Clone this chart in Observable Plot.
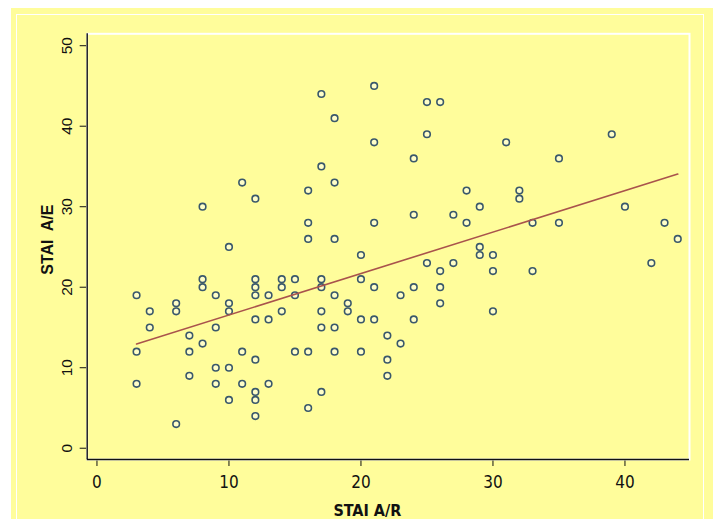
<!DOCTYPE html>
<html>
<head>
<meta charset="utf-8">
<script src="https://cdn.jsdelivr.net/npm/d3@7"></script>
<script src="https://cdn.jsdelivr.net/npm/@observablehq/plot@0.6"></script>
<style>
  html, body { margin: 0; padding: 0; background: #ffffff; }
  #page { position: relative; width: 719px; height: 519px; overflow: hidden; }
  #panel { position: absolute; left: 11px; top: 8px; width: 702px; height: 540px; background: #fffd9b; }
  #panel-line { position: absolute; left: 16px; top: 14px; width: 688px; height: 540px; border: 1.5px solid #ffffff; box-sizing: border-box; }
  #chart { position: absolute; left: 0; top: 0; }
  #chart svg text { white-space: pre; }
</style>
</head>
<body>
<div id="page">
  <div id="panel"></div>
  <div id="panel-line"></div>
  <div id="chart"></div>
</div>
<script>
// STAI A/R (x) and STAI A/E (y) scores, one entry per subject
const staiAR = [
  11, 12, 8, 10,
  3, 8, 8, 9, 6, 6, 4, 4, 10, 10, 12, 12, 12, 13, 14, 14, 14, 12, 13, 9, 7, 8, 3, 7, 11, 12, 7, 9, 10, 3, 9, 11, 13, 12, 10, 12, 12, 6,
  17, 21, 25, 26, 18, 25, 21, 24, 17, 18, 16, 28, 24, 27, 28, 16, 21, 16, 18, 20,
  25, 27, 26, 15, 17, 17, 20, 21, 24, 26, 26, 15, 18, 23, 19, 19, 17, 17, 18, 20, 21, 24, 22, 23, 15, 16, 18, 20, 22, 22, 17, 16,
  31, 39, 35, 32, 32, 29, 40, 33, 35, 43, 44, 29, 29, 30, 30, 33, 42, 30
];
const staiAE = [
  33, 31, 30, 25,
  19, 21, 20, 19, 18, 17, 17, 15, 18, 17, 21, 20, 19, 19, 20, 21, 17, 16, 16, 15, 14, 13, 12, 12, 12, 11, 9, 10, 10, 8, 8, 8, 8, 7, 6, 6, 4, 3,
  44, 45, 43, 43, 41, 39, 38, 36, 35, 33, 32, 32, 29, 29, 28, 28, 28, 26, 26, 24,
  23, 23, 22, 21, 21, 20, 21, 20, 20, 20, 18, 19, 19, 19, 18, 17, 17, 15, 15, 16, 16, 16, 14, 13, 12, 12, 12, 12, 11, 9, 7, 5,
  38, 39, 36, 32, 31, 30, 30, 28, 28, 28, 26, 25, 24, 24, 22, 22, 23, 17
];

const xTicks = [0, 10, 20, 30, 40];
const yTicks = [0, 10, 20, 30, 40, 50];
const xTitle = "STAI A/R";
const yTitle = "STAI  A/E";

const data = staiAR.map((x, i) => ({x, y: staiAE[i]}));

// plot-region extent in data units (the region reaches a little past the tick range)
const xDomain = [-0.74, 44.89];
const yDomain = [-1.40, 51.48];

const markerColor = "#3a586b";
const fitColor = "#a9534c";
const narrow = "'Liberation Sans Narrow', 'Arial Narrow', 'DejaVu Sans Condensed', sans-serif";
const sans = "Arial, 'Liberation Sans', Helvetica, sans-serif";

const chart = Plot.plot({
  width: 719,
  height: 519,
  marginLeft: 86.7,
  marginRight: 30,
  marginTop: 33.3,
  marginBottom: 60,
  style: {background: "transparent", overflow: "visible", color: "#111"},
  // tick marks come from the scales' axes; their labels are drawn as text marks below
  x: {domain: xDomain, ticks: xTicks, tickSize: 7, tickFormat: () => "", label: null},
  y: {domain: yDomain, ticks: yTicks, tickSize: 7, tickFormat: () => "", label: null},
  marks: [
    // white outline of the plot region
    Plot.frame({stroke: "#ffffff", strokeWidth: 2}),
    // axis lines along the left and bottom edges
    Plot.ruleX([xDomain[0]], {stroke: "#111", strokeWidth: 1.4}),
    Plot.ruleY([yDomain[0]], {stroke: "#111", strokeWidth: 1.4}),
    // tick labels
    Plot.text(xTicks, {x: d => d, frameAnchor: "bottom", dy: 28, textAnchor: "middle", text: d => String(d), fontSize: 17, fontFamily: narrow, fill: "#111"}),
    Plot.text(yTicks, {y: d => d, frameAnchor: "left", dx: -20, rotate: -90, textAnchor: "middle", lineAnchor: "middle", text: d => String(d), fontSize: 15.5, fontFamily: sans, fill: "#111"}),
    // axis titles
    Plot.text([xTitle], {frameAnchor: "bottom", dx: -21, dy: 51, textAnchor: "middle", lineAnchor: "middle", text: d => d, fontSize: 16, fontWeight: "bold", fontFamily: narrow, fill: "#111"}),
    Plot.text([yTitle], {frameAnchor: "left", dx: -39, dy: -7, rotate: -90, textAnchor: "middle", lineAnchor: "middle", text: d => d, fontSize: 16, fontWeight: "bold", fontFamily: sans, fill: "#111"}),
    // observations
    Plot.dot(data, {x: "x", y: "y", r: 3.3, stroke: markerColor, strokeWidth: 1.6, fill: "#fffec8"}),
    // least-squares fit
    Plot.linearRegressionY(data, {x: "x", y: "y", ci: 0, stroke: fitColor, strokeWidth: 1.6})
  ]
});

document.getElementById("chart").appendChild(chart);
</script>
</body>
</html>
